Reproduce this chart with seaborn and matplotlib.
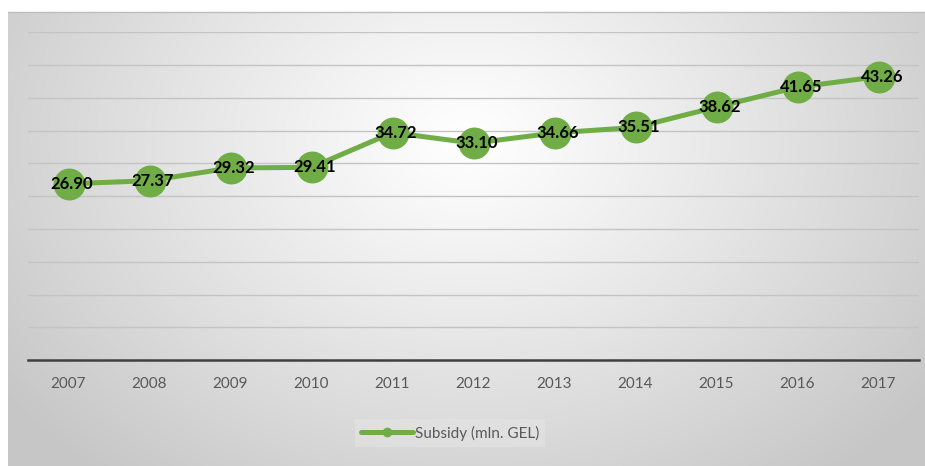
import numpy as np
import pandas as pd
import matplotlib
matplotlib.use("Agg")
import matplotlib.pyplot as plt
import seaborn as sns

years = [2007, 2008, 2009, 2010, 2011, 2012, 2013, 2014, 2015, 2016, 2017]
subsidy = [26.90, 27.37, 29.32, 29.41, 34.72, 33.10, 34.66, 35.51, 38.62, 41.65, 43.26]
series_name = "Subsidy (mln. GEL)"

df = pd.DataFrame({"year": years, "value": subsidy, "series": series_name})

sns.set_theme(style="white")
plt.rcParams["font.family"] = ["Lato", "DejaVu Sans"]

W, H = 925, 466
fig = plt.figure(figsize=(W / 100, H / 100), dpi=100)
fig.patch.set_facecolor("white")

# radial grey-to-white backdrop for the chart area
bg = fig.add_axes([8 / W, 0, 1 - 8 / W, (H - 12) / H])
bg.set_axis_off()
ny, nx = 300, 600
yy, xx = np.mgrid[0:ny, 0:nx]
cx, cy = 0.50 * nx, 0.28 * ny
r = np.sqrt(((xx - cx) / (0.62 * nx)) ** 2 + ((yy - cy) / (0.95 * ny)) ** 2)
r = np.clip(r, 0, 1)
shade = 1.0 - (1.0 - 0.78) * r ** 1.1
img = np.dstack([shade, shade, shade])
bg.imshow(img, aspect="auto", extent=[0, 1, 0, 1], origin="upper")
bg.set_xlim(0, 1)
bg.set_ylim(0, 1)
bg.plot([0, 1], [1, 1], color="#bdbdbd", lw=1.0, transform=bg.transAxes, clip_on=False)

ax = fig.add_axes([28 / W, (H - 360) / H, (919 - 28) / W, (360 - 32.5) / H])
ax.patch.set_alpha(0)

green = "#70AD47"
sns.lineplot(data=df, x="year", y="value", hue="series", palette=[green], ax=ax,
             lw=3.6, marker="o", markersize=23, markeredgewidth=0, legend=False, zorder=3)

for x, v in zip(years, subsidy):
    ax.text(x + 0.04, v, f"{v:.2f}", ha="center", va="center", fontsize=12,
            fontweight="bold", color="black", zorder=4)

ax.set_xlim(2006.5, 2017.5)
ax.set_ylim(0, 50)
ax.set_yticks(np.arange(5, 51, 5))
ax.yaxis.grid(True, color="#c4c4c4", lw=1.0)
ax.set_axisbelow(True)
ax.tick_params(axis="y", left=False, labelleft=False)
ax.set_xticks(years)
ax.set_xticklabels([str(y) for y in years], fontsize=11, color="#595959")
ax.tick_params(axis="x", bottom=False, pad=6)
ax.set_xlabel("")
ax.set_ylabel("")
for s in ["top", "left", "right"]:
    ax.spines[s].set_visible(False)
ax.spines["bottom"].set_color("#404040")
ax.spines["bottom"].set_linewidth(1.8)

handle = plt.Line2D([], [], color=green, lw=3.6, marker="o", markersize=6)
leg = fig.legend([handle], [series_name], loc="center", bbox_to_anchor=(450 / W, 1 - 433 / H),
                 frameon=True, fontsize=11, handlelength=3.4, handletextpad=0.1,
                 borderpad=0.4, fancybox=False)
leg.get_frame().set_facecolor("#e6e6e6")
leg.get_frame().set_alpha(0.5)
leg.get_frame().set_edgecolor("none")
for t in leg.get_texts():
    t.set_color("#595959")

fig.savefig("out.png", dpi=100)
